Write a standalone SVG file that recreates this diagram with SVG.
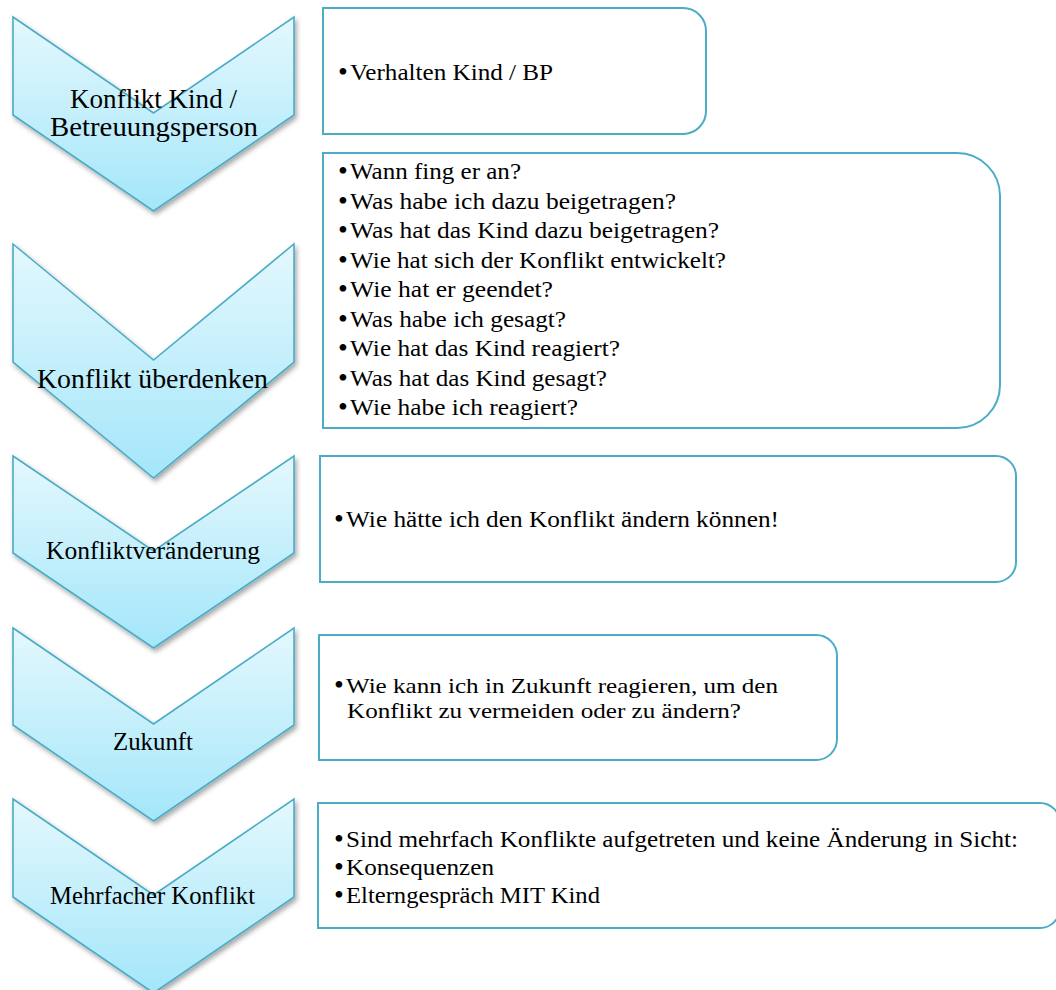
<svg xmlns="http://www.w3.org/2000/svg" width="1056" height="990" viewBox="0 0 1056 990">
<defs>
<linearGradient id="cg" x1="0" y1="0" x2="0" y2="1">
<stop offset="0" stop-color="#e4f8fd"/>
<stop offset="1" stop-color="#a4e6fa"/>
</linearGradient>
<filter id="sh" x="-10%" y="-10%" width="125%" height="125%">
<feDropShadow dx="2" dy="3" stdDeviation="2.5" flood-color="#000" flood-opacity="0.35"/>
</filter>
</defs>
<style>
.chev{fill:url(#cg);stroke:#4bacc6;stroke-width:1.6;stroke-linejoin:miter;filter:url(#sh)}
.box{fill:#fff;stroke:#4bacc6;stroke-width:2}
.lbl{font-family:"Liberation Serif",serif;font-size:27px;fill:#000;text-anchor:middle}
.lbs{font-family:"Liberation Serif",serif;font-size:25px;fill:#000;text-anchor:middle}
.t{font-family:"Liberation Serif",serif;font-size:24px;fill:#000}
.s{font-family:"Liberation Serif",serif;font-size:22px;fill:#000}
.b{font-family:"Liberation Serif",serif;font-size:28px;fill:#000}
</style>
<rect width="1056" height="990" fill="#fff"/>
<g id="connectors"/>

<g id="chevron1">
<polygon class="chev" points="13,17 153.5,113 294,17 294,115 153.5,211 13,115"/>
<text class="lbl" x="153.5" y="108" textLength="167" lengthAdjust="spacingAndGlyphs">Konflikt Kind /</text>
<text class="lbl" x="154" y="136" textLength="208" lengthAdjust="spacingAndGlyphs">Betreuungsperson</text>
</g>
<g id="chevron2">
<polygon class="chev" points="13,244 153.5,360 294,244 294,362 153.5,478 13,362"/>
<text class="lbl" x="152.5" y="388" textLength="231" lengthAdjust="spacingAndGlyphs">Konflikt überdenken</text>
</g>
<g id="chevron3">
<polygon class="chev" points="13,456 153.5,551 294,456 294,553 153.5,648 13,553"/>
<text class="lbs" x="153" y="559" textLength="214" lengthAdjust="spacingAndGlyphs">Konfliktveränderung</text>
</g>
<g id="chevron4">
<polygon class="chev" points="13,628 153.5,724 294,628 294,725 153.5,821 13,725"/>
<text class="lbs" x="153" y="750" textLength="80" lengthAdjust="spacingAndGlyphs">Zukunft</text>
</g>
<g id="chevron5">
<polygon class="chev" points="13,799 153.5,895 294,799 294,897 153.5,993 13,897"/>
<text class="lbs" x="152.5" y="904" textLength="205" lengthAdjust="spacingAndGlyphs">Mehrfacher Konflikt</text>
</g>

<g id="box1">
<path class="box" d="M323,8 H683 A23,23 0 0 1 706,31 V111 A23,23 0 0 1 683,134 H323 Z"/>
<text class="b" x="338" y="81">•</text>
<text class="t" x="350" y="80" textLength="203" lengthAdjust="spacingAndGlyphs">Verhalten Kind / BP</text>
</g>
<g id="box2">
<path class="box" d="M323,153 H957 A43,43 0 0 1 1000,196 V385 A43,43 0 0 1 957,428 H323 Z"/>
<text class="b" x="338" y="180">•</text>
<text class="t" x="350" y="179" textLength="171" lengthAdjust="spacingAndGlyphs">Wann fing er an?</text>
<text class="b" x="338" y="209.5">•</text>
<text class="t" x="350" y="208.5" textLength="326" lengthAdjust="spacingAndGlyphs">Was habe ich dazu beigetragen?</text>
<text class="b" x="338" y="239">•</text>
<text class="t" x="350" y="238" textLength="369" lengthAdjust="spacingAndGlyphs">Was hat das Kind dazu beigetragen?</text>
<text class="b" x="338" y="268.5">•</text>
<text class="t" x="350" y="267.5" textLength="376" lengthAdjust="spacingAndGlyphs">Wie hat sich der Konflikt entwickelt?</text>
<text class="b" x="338" y="298">•</text>
<text class="t" x="350" y="297" textLength="203" lengthAdjust="spacingAndGlyphs">Wie hat er geendet?</text>
<text class="b" x="338" y="327.5">•</text>
<text class="t" x="350" y="326.5" textLength="216" lengthAdjust="spacingAndGlyphs">Was habe ich gesagt?</text>
<text class="b" x="338" y="357">•</text>
<text class="t" x="350" y="356" textLength="270" lengthAdjust="spacingAndGlyphs">Wie hat das Kind reagiert?</text>
<text class="b" x="338" y="386.5">•</text>
<text class="t" x="350" y="385.5" textLength="257" lengthAdjust="spacingAndGlyphs">Was hat das Kind gesagt?</text>
<text class="b" x="338" y="416">•</text>
<text class="t" x="350" y="415" textLength="228" lengthAdjust="spacingAndGlyphs">Wie habe ich reagiert?</text>
</g>
<g id="box3">
<path class="box" d="M320,456 H996 A20,20 0 0 1 1016,476 V562 A20,20 0 0 1 996,582 H320 Z"/>
<text class="b" x="334" y="528">•</text>
<text class="t" x="346" y="527" textLength="433" lengthAdjust="spacingAndGlyphs">Wie hätte ich den Konflikt ändern können!</text>
</g>
<g id="box4">
<path class="box" d="M319,635 H816 A21,21 0 0 1 837,656 V739 A21,21 0 0 1 816,760 H319 Z"/>
<text class="b" x="334" y="694">•</text>
<text class="s" x="346" y="693" textLength="432" lengthAdjust="spacingAndGlyphs">Wie kann ich in Zukunft reagieren, um den</text>
<text class="s" x="347" y="718" textLength="394" lengthAdjust="spacingAndGlyphs">Konflikt zu vermeiden oder zu ändern?</text>
</g>
<g id="box5">
<path class="box" d="M318,803 H1040 A20,20 0 0 1 1060,823 V908 A20,20 0 0 1 1040,928 H318 Z"/>
<text class="b" x="334" y="848">•</text>
<text class="t" x="346" y="847" textLength="672" lengthAdjust="spacingAndGlyphs">Sind mehrfach Konflikte aufgetreten und keine Änderung in Sicht:</text>
<text class="b" x="334" y="876">•</text>
<text class="t" x="346" y="875" textLength="148" lengthAdjust="spacingAndGlyphs">Konsequenzen</text>
<text class="b" x="334" y="904">•</text>
<text class="t" x="346" y="903" textLength="254" lengthAdjust="spacingAndGlyphs">Elterngespräch MIT Kind</text>
</g>
</svg>
